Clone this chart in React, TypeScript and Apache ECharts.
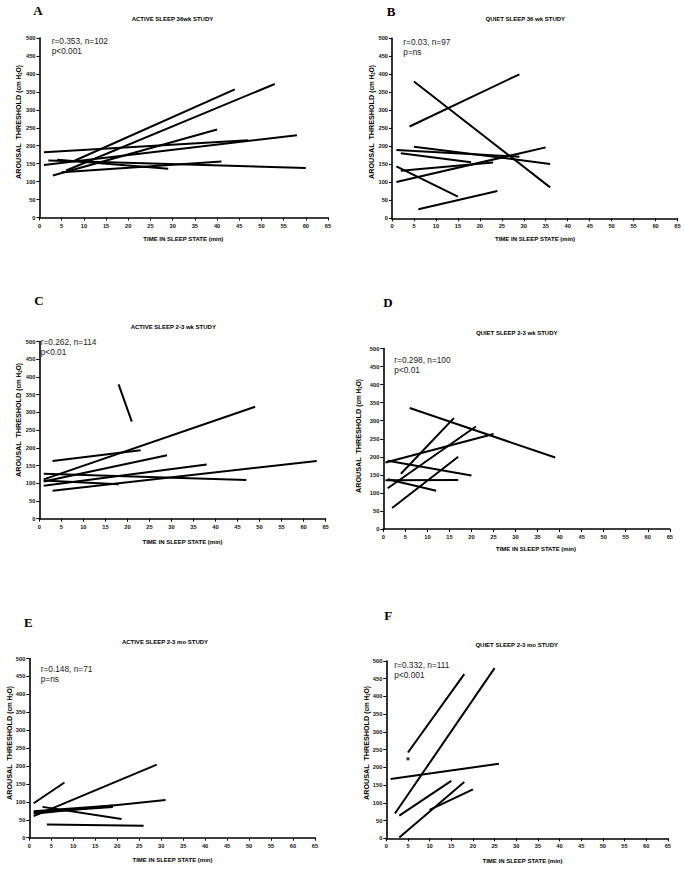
import React, { useEffect, useRef } from "react";
import * as echarts from "echarts";

// ---------- data ----------
const xMin = 0, xMax = 65, xStep = 5;
const yMin = 0, yMax = 500, yStep = 50;

const panelLetters = ["A", "B", "C", "D", "E", "F"];
const panelTitles = [
  "ACTIVE SLEEP 36wk STUDY",
  "QUIET SLEEP 36 wk STUDY",
  "ACTIVE SLEEP 2-3 wk STUDY",
  "QUIET SLEEP 2-3 wk STUDY",
  "ACTIVE SLEEP 2-3 mo STUDY",
  "QUIET SLEEP 2-3 mo STUDY",
];
const statsR = ["r=0.353, n=102", "r=0.03, n=97", "r=0.262, n=114", "r=0.298, n=100", "r=0.148, n=71", "r=0.332, n=111"];
const statsP = ["p<0.001", "p=ns", "p<0.01", "p<0.01", "p=ns", "p<0.001"];
const xName = "TIME IN SLEEP STATE (min)";

// segments: [x1, y1, x2, y2]
const segA = [
  [1, 182, 47, 215],
  [1, 146, 58, 229],
  [2, 159, 60, 138],
  [4, 161, 29, 136],
  [5, 126, 41, 156],
  [3, 117, 40, 245],
  [7.5, 156, 44, 357],
  [6, 131, 53, 372],
];
const segB = [
  [4, 255, 29, 400],
  [5, 380, 36, 86],
  [1, 190, 29, 171],
  [5, 199, 36, 151],
  [2, 181, 18, 156],
  [2, 132, 23, 155],
  [1, 101, 35, 197],
  [1, 144, 15, 60],
  [6, 25, 24, 76],
];
const segC = [
  [18, 379, 21, 274],
  [1, 111, 49, 316],
  [3, 163, 23, 193],
  [1, 105, 29, 179],
  [1, 93, 38, 153],
  [1, 127, 47, 109],
  [1, 108, 18, 97],
  [3, 79, 63, 163],
];
const segD = [
  [6, 335, 39, 198],
  [4, 153, 16, 307],
  [1, 113, 21, 284],
  [0.5, 184, 25, 263],
  [1, 189, 20, 148],
  [0.5, 135, 17, 136],
  [1, 138, 12, 106],
  [2, 58, 17, 200],
];
const segE = [
  [1, 96, 8, 154],
  [1, 60, 29, 204],
  [1, 67, 31, 105],
  [3, 86, 21, 52],
  [1, 70, 19, 86],
  [1, 74, 19, 90],
  [4, 37, 26, 33],
];
const segF = [
  [5, 242, 18, 463],
  [2, 70, 25, 480],
  [1, 167, 26, 210],
  [3, 64, 15, 162],
  [3, 2, 18, 159],
  [10, 80, 20, 138],
];
const dotsF = [[5, 224]];

const allSegs = [segA, segB, segC, segD, segE, segF];
const allDots = [[], [], [], [], [], dotsF];

// ---------- layout ----------
const grids = [
  { left: 39.5, top: 38, width: 288.5, height: 179.5 },
  { left: 392, top: 38.3, width: 285.5, height: 180 },
  { left: 39.3, top: 341.5, width: 286.3, height: 177.2 },
  { left: 383.3, top: 348.5, width: 286.5, height: 180.5 },
  { left: 29.3, top: 658.5, width: 285.7, height: 179.2 },
  { left: 386.3, top: 661, width: 281.5, height: 177.3 },
];
const letterPos = [[33.3, 10.8], [386.7, 11.3], [34.3, 300], [383.3, 302], [24, 622.2], [384.3, 615]];
const titlePos = [[172.5, 19], [525.3, 19], [173.3, 327.3], [516.7, 333.3], [165, 641.7], [516.7, 645]];
const statsPos = [[51.7, 40.7], [403.3, 41.7], [40.7, 342.3], [394.3, 360], [40.7, 669.3], [394.3, 665]];
const yNamePos = [[18.3, 122], [371.7, 122], [18.3, 420], [358.3, 436], [9.3, 743], [366.7, 743]];
const xNamePos = [[183.3, 239], [535, 239], [182.5, 542], [536, 548.5], [172.5, 860], [522.5, 861]];

const SANS = "'Liberation Sans', Arial, Helvetica, sans-serif";
const SERIF = "'Liberation Serif', 'Times New Roman', serif";
const INK = "#000";

function txt(x: number, y: number, text: string, s: any, extra: any = {}) {
  return {
    type: "text",
    x,
    y,
    silent: true,
    ...extra,
    style: {
      text,
      fill: INK,
      fontFamily: SANS,
      textAlign: "left",
      align: "left",
      textVerticalAlign: "middle",
      verticalAlign: "middle",
      ...s,
    },
  };
}

function buildOption() {
  const xAxis: any[] = [];
  const yAxis: any[] = [];
  const series: any[] = [];
  const graphic: any[] = [];

  grids.forEach((g, i) => {
    xAxis.push({
      gridIndex: i,
      type: "value",
      min: xMin,
      max: xMax,
      interval: xStep,
      axisLine: { show: true, onZero: false, lineStyle: { color: INK, width: 1.6 } },
      axisTick: { show: true, length: 3, lineStyle: { color: INK, width: 1 } },
      axisLabel: { fontSize: 5.7, fontWeight: "bold", color: "#111", margin: 5, fontFamily: SANS },
      splitLine: { show: false },
    });
    yAxis.push({
      gridIndex: i,
      type: "value",
      min: yMin,
      max: yMax,
      interval: yStep,
      axisLine: { show: true, onZero: false, lineStyle: { color: INK, width: 1.6 } },
      axisTick: { show: true, length: 3, lineStyle: { color: INK, width: 1 } },
      axisLabel: { fontSize: 5.7, fontWeight: "bold", color: "#111", margin: 4, fontFamily: SANS },
      splitLine: { show: false },
    });

    allSegs[i].forEach((s) => {
      series.push({
        type: "line",
        xAxisIndex: i,
        yAxisIndex: i,
        data: [
          [s[0], s[1]],
          [s[2], s[3]],
        ],
        symbol: "none",
        silent: true,
        lineStyle: { color: INK, width: 2 },
      });
    });
    if (allDots[i].length) {
      series.push({
        type: "scatter",
        xAxisIndex: i,
        yAxisIndex: i,
        data: allDots[i],
        symbol: "rect",
        symbolSize: 3,
        silent: true,
        itemStyle: { color: INK },
      });
    }

    graphic.push(
      txt(letterPos[i][0], letterPos[i][1], panelLetters[i], {
        fontFamily: SERIF,
        fontSize: 13,
        fontWeight: "bold",
      })
    );
    graphic.push(
      txt(titlePos[i][0], titlePos[i][1], panelTitles[i], {
        fontSize: 6,
        fontWeight: "bold",
        textAlign: "center",
        align: "center",
      })
    );
    graphic.push(txt(statsPos[i][0], statsPos[i][1], statsR[i], { fontSize: 8.3, fill: "#222" }));
    graphic.push(txt(statsPos[i][0], statsPos[i][1] + 10, statsP[i], { fontSize: 8.3, fill: "#222" }));
    graphic.push(
      txt(xNamePos[i][0], xNamePos[i][1], xName, {
        fontSize: 6,
        fontWeight: "bold",
        textAlign: "center",
        align: "center",
      })
    );
    graphic.push(
      txt(
        yNamePos[i][0],
        yNamePos[i][1],
        "{m|AROUSAL  THRESHOLD }{n|(cm H}{s|2}{n|O)}",
        {
          textAlign: "center",
          align: "center",
          rich: {
            m: { fontSize: 7.2, fontWeight: "bold", fontFamily: SANS, fill: INK, color: INK, lineHeight: 9 },
            n: { fontSize: 6.5, fontWeight: "bold", fontFamily: SANS, fill: INK, color: INK, lineHeight: 9 },
            s: { fontSize: 4.5, fontWeight: "bold", fontFamily: SANS, fill: INK, color: INK, lineHeight: 9, verticalAlign: "bottom" },
          },
        },
        { rotation: Math.PI / 2 }
      )
    );
  });

  return {
    animation: false,
    backgroundColor: "#fff",
    grid: grids.map((g) => ({ ...g, containLabel: false })),
    xAxis,
    yAxis,
    series,
    graphic,
  };
}

export default function App() {
  const ref = useRef<HTMLDivElement>(null);
  useEffect(() => {
    if (!ref.current) return;
    const chart = echarts.init(ref.current, undefined, { renderer: "svg" });
    chart.setOption(buildOption() as any);
    return () => chart.dispose();
  }, []);
  return (
    <div
      ref={ref}
      style={{ position: "fixed", left: 0, top: 0, width: 685, height: 875, background: "#fff" }}
    />
  );
}
